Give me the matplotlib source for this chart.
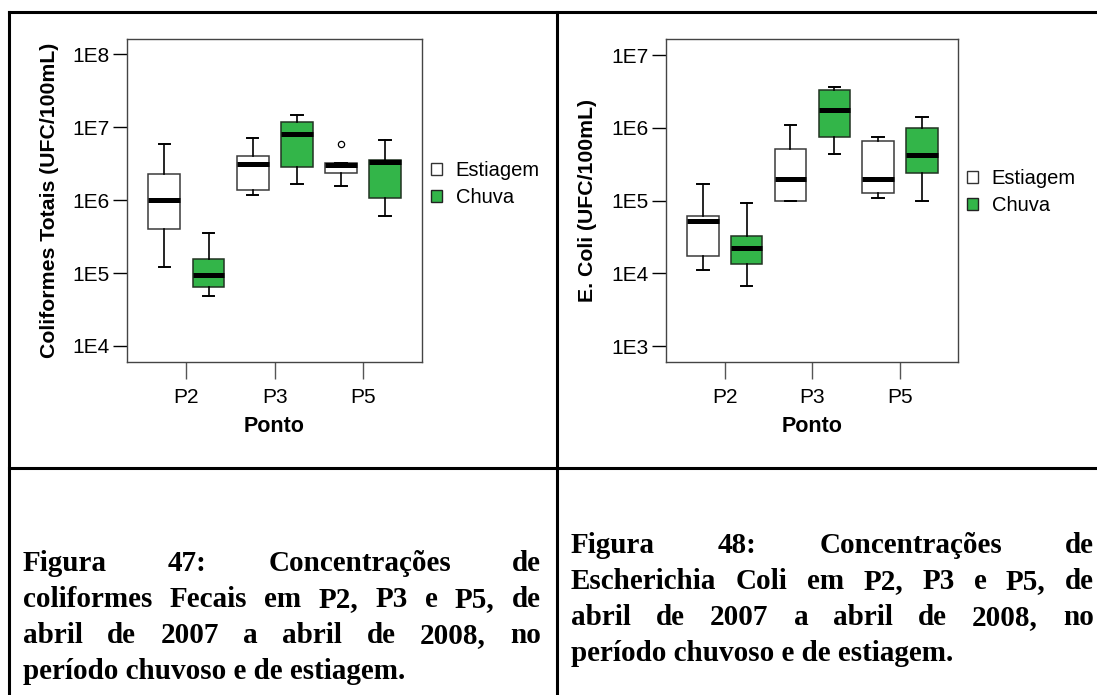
import matplotlib
matplotlib.use("Agg")
import matplotlib.pyplot as plt
from matplotlib.patches import Patch
from matplotlib.lines import Line2D
from matplotlib.ticker import NullLocator

plt.rcParams['font.family'] = ['Liberation Sans', 'DejaVu Sans']

# data: (whisker low, Q1, median, Q3, whisker high)
pontos = ["P2", "P3", "P5"]
series = ["Estiagem", "Chuva"]

colif_estiagem = [[1.22e5, 4.07e5, 1.0e6, 2.29e6, 5.9e6],
                  [1.19e6, 1.38e6, 3.1e6, 4.07e6, 7.05e6],
                  [1.58e6, 2.38e6, 3.07e6, 3.2e6, 3.2e6]]
colif_estiagem_out = [[], [], [5.96e6]]
colif_chuva = [[4.9e4, 6.5e4, 9.5e4, 1.56e5, 3.58e5],
               [1.68e6, 2.88e6, 8.0e6, 1.19e7, 1.49e7],
               [6.07e5, 1.06e6, 3.3e6, 3.52e6, 6.68e6]]
colif_chuva_out = [[], [], []]

coli_estiagem = [[1.11e4, 1.71e4, 5.2e4, 6.1e4, 1.70e5],
                 [1.0e5, 1.0e5, 2.0e5, 5.16e5, 1.09e6],
                 [1.09e5, 1.29e5, 2.0e5, 6.58e5, 7.46e5]]
coli_estiagem_out = [[], [], []]
coli_chuva = [[6.75e3, 1.33e4, 2.25e4, 3.29e4, 9.3e4],
              [4.4e5, 7.4e5, 1.75e6, 3.27e6, 3.67e6],
              [1.0e5, 2.39e5, 4.2e5, 9.9e5, 1.41e6]]
coli_chuva_out = [[], [], []]

colif_ticks = [1e4, 1e5, 1e6, 1e7, 1e8]
colif_labels = ["1E4", "1E5", "1E6", "1E7", "1E8"]
coli_ticks = [1e3, 1e4, 1e5, 1e6, 1e7]
coli_labels = ["1E3", "1E4", "1E5", "1E6", "1E7"]

caption_47 = ["Figura 47: Concentrações de",
              "coliformes Fecais em P2, P3 e P5, de",
              "abril de 2007 a abril de 2008, no",
              "período chuvoso e de estiagem."]
caption_48 = ["Figura 48: Concentrações de",
              "Escherichia Coli em P2, P3 e P5, de",
              "abril de 2007 a abril de 2008, no",
              "período chuvoso e de estiagem."]

GREEN = '#33b549'
W, H = 1097, 695
fig = plt.figure(figsize=(W / 100, H / 100), dpi=100)


def make_stats(rows, outliers):
    stats = []
    for r, o in zip(rows, outliers):
        stats.append(dict(whislo=r[0], q1=r[1], med=r[2], q3=r[3], whishi=r[4], fliers=o))
    return stats


def box_panel(ax, est, est_out, chu, chu_out, ticks, labels, ylim, ylabel, ylab_x):
    pos = list(range(1, len(pontos) + 1))
    common = dict(widths=0.36, patch_artist=True, manage_ticks=False, capwidths=0.13,
                  medianprops=dict(color='black', linewidth=3.6, solid_capstyle='butt'),
                  whiskerprops=dict(color='black', linewidth=1.2),
                  capprops=dict(color='black', linewidth=1.4),
                  flierprops=dict(marker='o', markerfacecolor='none', markeredgecolor='black',
                                  markersize=4.5, markeredgewidth=0.9))
    ax.bxp(make_stats(est, est_out), positions=[p - 0.25 for p in pos],
           boxprops=dict(facecolor='white', edgecolor='#3a3a3a', linewidth=1.1), **common)
    ax.bxp(make_stats(chu, chu_out), positions=[p + 0.25 for p in pos],
           boxprops=dict(facecolor=GREEN, edgecolor='#223322', linewidth=1.1), **common)
    ax.set_yscale('log')
    ax.set_ylim(*ylim)
    ax.set_xlim(0.33, 3.665)
    ax.set_yticks(ticks, labels)
    ax.yaxis.set_minor_locator(NullLocator())
    ax.set_xticks(pos, pontos)
    ax.tick_params(axis='y', direction='out', length=10, width=1, pad=2.5, labelsize=15)
    ax.tick_params(axis='x', direction='out', length=12.2, width=1, color='#555555',
                   pad=6, labelsize=15)
    for s in ax.spines.values():
        s.set_color('#444444')
        s.set_linewidth(1.0)
    ax.set_ylabel(ylabel, fontweight='bold', fontsize=15.3, va='center')
    ax.yaxis.set_label_coords(ylab_x, 0.5)
    ax.set_xlabel("Ponto", fontweight='bold', fontsize=15.5, va='center')
    ax.xaxis.set_label_coords(0.5, -0.199)


ax1 = fig.add_axes([127.3 / W, 1 - 362.3 / H, 294.4 / W, 323.3 / H])
box_panel(ax1, colif_estiagem, colif_estiagem_out, colif_chuva, colif_chuva_out,
          colif_ticks, colif_labels, (10 ** 3.776, 10 ** 8.21),
          "Coliformes Totais (UFC/100mL)", -0.2626)

ax2 = fig.add_axes([666 / W, 1 - 362.3 / H, 292.3 / W, 323.3 / H])
box_panel(ax2, coli_estiagem, coli_estiagem_out, coli_chuva, coli_chuva_out,
          coli_ticks, coli_labels, (10 ** 2.78, 10 ** 7.22),
          "E. Coli (UFC/100mL)", -0.2675)

handles = [Patch(facecolor='white', edgecolor='#333333', linewidth=1.0),
           Patch(facecolor=GREEN, edgecolor='#222222', linewidth=1.0)]
for ax, lx, ly in [(ax1, 430.7, 161), (ax2, 966.7, 169)]:
    ax.legend(handles, series, loc='upper left', bbox_to_anchor=(lx / W, 1 - ly / H),
              bbox_transform=fig.transFigure, frameon=False, fontsize=14.5,
              handlelength=0.55, handleheight=0.55, handletextpad=0.7,
              labelspacing=0.42, borderpad=0, borderaxespad=0)

# table borders around the figures
lines = [((9, 9), (12, H)), ((9, W), (12, 12)), ((556.7, 556.7), (12, H)), ((9, W), (468, 468))]
for xs, ys in lines:
    fig.add_artist(Line2D([x / W for x in xs], [1 - y / H for y in ys],
                          color='black', linewidth=2.2, solid_capstyle='projecting'))

# justified captions
renderer = fig.canvas.get_renderer()
cap_font = dict(family=['Liberation Serif', 'DejaVu Serif'], fontweight='bold', fontsize=21)


def caption(lines_txt, x0, x1, baselines):
    for i, line in enumerate(lines_txt):
        y = 1 - baselines[i] / H
        if i == len(lines_txt) - 1:
            fig.text(x0 / W, y, line, va='baseline', ha='left', **cap_font)
            continue
        words = line.split()
        texts = [fig.text(0, y, w, va='baseline', ha='left', **cap_font) for w in words]
        widths = [t.get_window_extent(renderer).width for t in texts]
        gap = (x1 - x0 - sum(widths)) / (len(words) - 1)
        x = x0
        for t, w in zip(texts, widths):
            t.set_x(x / W)
            x += w + gap


caption(caption_47, 23, 541, [571, 607, 643, 679])
caption(caption_48, 571, 1094, [553, 589, 625, 661])

fig.savefig("out.png", dpi=100)
